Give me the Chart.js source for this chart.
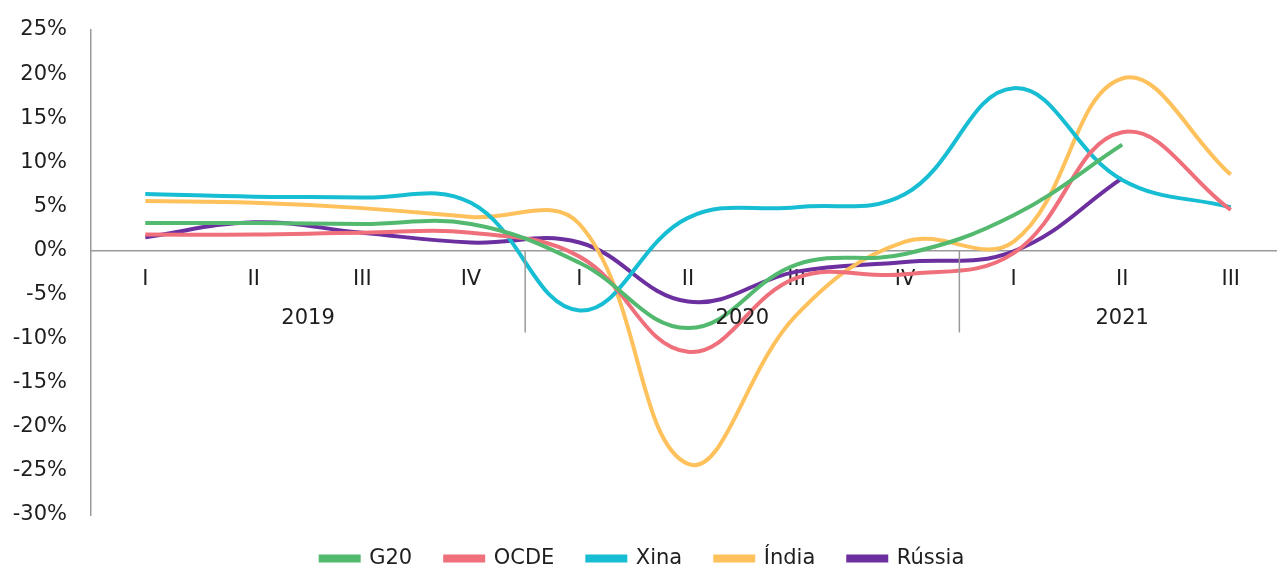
<!DOCTYPE html>
<html>
<head>
<meta charset="utf-8">
<script src="https://cdn.jsdelivr.net/npm/chart.js@4.4.0/dist/chart.umd.min.js"></script>
<style>
    html, body { margin: 0; padding: 0; background: #ffffff; overflow: hidden; }
    #wrap { position: relative; width: 1290px; height: 565px; }
</style>
</head>
<body>
<div id="wrap"><canvas id="chart"></canvas></div>
<script>
"use strict";

const quarters = ["I", "II", "III", "IV", "I", "II", "III", "IV", "I", "II", "III"];
const years = ["2019", "2020", "2021"];
const yearSpans = [4, 4, 3]; // quarters per year

const g20    = [3.1, 3.1, 3.0, 3.0, -1.4, -8.8, -1.6, -0.4, 4.0, 12.0, null];
const ocde   = [1.8, 1.8, 2.0, 2.0, -0.7, -11.5, -3.1, -2.7, -0.3, 13.4, 4.6];
const xina   = [6.4, 6.1, 6.0, 5.4, -6.8, 3.7, 4.9, 6.4, 18.4, 8.0, 4.9];
const india  = [5.6, 5.4, 4.8, 3.8, 3.0, -24.2, -7.3, 1.0, 1.0, 19.5, 8.6];
const russia = [1.5, 3.2, 2.0, 0.9, 0.9, -5.8, -2.4, -1.3, -0.1, 8.2, null];

const COLORS = {
    g20: '#52b96f',
    ocde: '#ef6f7b',
    xina: '#17bdd2',
    india: '#fec15c',
    russia: '#6c2f9f'
};

const FONT = "'DejaVu Sans', sans-serif";
const FONT_SIZE = 21;
const TEXT = '#1e1e1e';
const AXIS = '#9a9a9a';

function makeSet(label, data, color) {
    return {
        label: label,
        data: data,
        borderColor: color,
        backgroundColor: color,
        borderWidth: 4,
        pointRadius: 0,
        tension: 0.4,
        fill: false,
        spanGaps: false
    };
}

// year labels and separators under the quarter labels
const yearGroups = {
    id: 'yearGroups',
    afterDraw(chart) {
        const ctx = chart.ctx;
        const x = chart.scales.x;
        const y = chart.scales.y;
        const y0 = y.getPixelForValue(0);
        const half = (x.getPixelForValue(1) - x.getPixelForValue(0)) / 2;
        ctx.save();
        ctx.strokeStyle = AXIS;
        ctx.lineWidth = 1.5;
        ctx.fillStyle = TEXT;
        ctx.font = FONT_SIZE + "px " + FONT;
        ctx.textAlign = 'center';
        ctx.textBaseline = 'middle';
        let start = 0;
        for (let i = 0; i < years.length; i++) {
            const end = start + yearSpans[i] - 1;
            const cx = (x.getPixelForValue(start) + x.getPixelForValue(end)) / 2;
            ctx.fillText(years[i], cx, y0 + 68);
            if (i < years.length - 1) {
                const sx = x.getPixelForValue(end) + half;
                ctx.beginPath();
                ctx.moveTo(sx, y0);
                ctx.lineTo(sx, y0 + 82);
                ctx.stroke();
            }
            start = end + 1;
        }
        ctx.restore();
    }
};

const ctx = document.getElementById('chart').getContext('2d');
new Chart(ctx, {
    type: 'line',
    data: {
        labels: quarters,
        datasets: [
            makeSet('G20', g20, COLORS.g20),
            makeSet('OCDE', ocde, COLORS.ocde),
            makeSet('Xina', xina, COLORS.xina),
            makeSet('Índia', india, COLORS.india),
            makeSet('Rússia', russia, COLORS.russia)
        ]
    },
    options: {
        responsive: true,
        maintainAspectRatio: false,
        animation: false,
        layout: {
            autoPadding: false,
            padding: { top: 30, right: 5, left: 0, bottom: -14 }
        },
        scales: {
            x: {
                type: 'category',
                position: { y: 0 },
                offset: true,
                grid: { display: false, drawTicks: false },
                border: { display: true, color: AXIS, width: 1.5 },
                ticks: { color: TEXT, font: { family: FONT, size: FONT_SIZE }, padding: 16, maxRotation: 0 }
            },
            y: {
                min: -30,
                max: 25,
                grid: { display: false, drawTicks: false },
                border: { display: true, color: AXIS, width: 1.5 },
                afterFit(scale) { scale.width = 91; },
                ticks: {
                    stepSize: 5,
                    color: TEXT,
                    padding: 24,
                    font: { family: FONT, size: FONT_SIZE, lineHeight: 0.4 },
                    callback: (v) => v + '%'
                }
            }
        },
        plugins: {
            legend: {
                position: 'bottom',
                labels: {
                    boxWidth: 38,
                    boxHeight: 4,
                    padding: 33,
                    color: TEXT,
                    font: { family: FONT, size: FONT_SIZE }
                }
            },
            tooltip: { enabled: false }
        }
    },
    plugins: [yearGroups]
});
</script>
</body>
</html>
